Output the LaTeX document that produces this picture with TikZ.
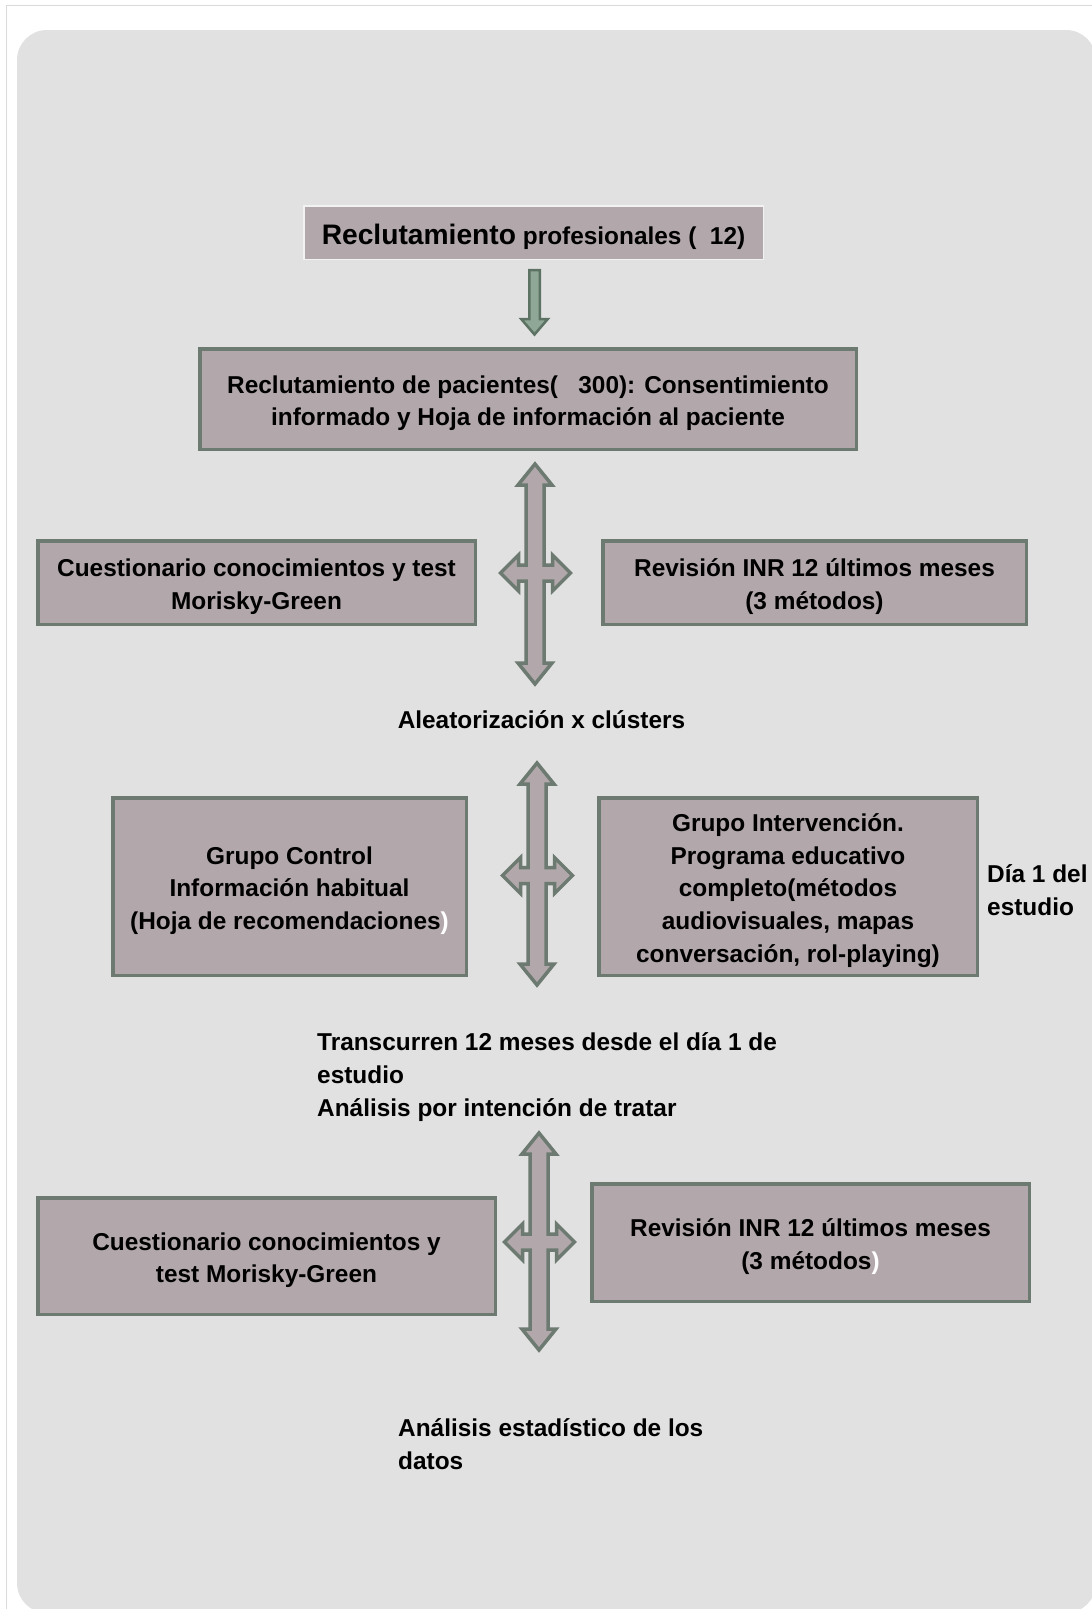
\documentclass[tikz,border=0pt]{standalone}
\usepackage{fontspec}
\setmainfont{Liberation Sans}
\definecolor{panel}{RGB}{225,225,225}
\definecolor{framegray}{RGB}{218,218,218}
\definecolor{boxfill}{RGB}{178,168,171}
\definecolor{boxline}{RGB}{108,122,113}
\definecolor{topline}{RGB}{242,242,242}
\definecolor{darrowfill}{RGB}{143,167,151}
\definecolor{darrowline}{RGB}{92,114,99}
\newcommand\topstrut{\rule{0pt}{26pt}}
\newcommand\quadarrow[6]{%
  \draw[quad] (#1,#3) -- ({#1+17},{#3+21}) -- ({#1+9},{#3+21}) -- ({#1+9},{#2-8})
   -- ({#6-18},{#2-8}) -- ({#6-18},{#2-18}) -- (#6,#2) -- ({#6-18},{#2+18}) -- ({#6-18},{#2+8})
   -- ({#1+9},{#2+8}) -- ({#1+9},{#4-21}) -- ({#1+17},{#4-21}) -- (#1,#4) -- ({#1-17},{#4-21})
   -- ({#1-9},{#4-21}) -- ({#1-9},{#2+8}) -- ({#5+18},{#2+8}) -- ({#5+18},{#2+18}) -- (#5,#2)
   -- ({#5+18},{#2-18}) -- ({#5+18},{#2-8}) -- ({#1-9},{#2-8}) -- ({#1-9},{#3+21})
   -- ({#1-17},{#3+21}) -- cycle;}
\begin{document}
\begin{tikzpicture}[x=1pt,y=-1pt,
  txt/.style={font=\bfseries\fontsize{24.4}{32.8}\selectfont, align=center, text=black, inner sep=0pt},
  box/.style={txt, draw=boxline, line width=3.5pt, fill=boxfill},
  freetxt/.style={font=\bfseries\fontsize{24.4}{32.8}\selectfont, align=left, text=black, inner sep=0pt},
  quad/.style={draw=boxline, line width=3.5pt, fill=boxfill, line join=miter},
  downarrow/.style={draw=darrowline, line width=2.5pt, fill=darrowfill, line join=miter}
]
\useasboundingbox (0,0) rectangle (1092,1609);
\clip (0,0) rectangle (1092,1609);
\fill[white] (0,0) rectangle (1092,1609);
\draw[framegray, line width=1pt] (6,1620) -- (6,5) -- (1100,5);
\fill[panel, rounded corners=30pt] (17,30) rectangle (1096,1613);

% boxes
\node[box, draw=topline, line width=1.5pt, minimum width=459.5pt, minimum height=53.5pt] (prof) at (533.5,232.5)
  {\rule{0pt}{28.5pt}{\fontsize{28.2}{30}\selectfont Reclutamiento} profesionales (\ \ 12)};
\node[box, minimum width=656.5pt, minimum height=100.5pt] (pac) at (528,399)
  {\topstrut Reclutamiento de pacientes(\ \ \ 300): Consentimiento\\informado y Hoja de información al paciente};
\node[box, minimum width=437.5pt, minimum height=83.5pt] (cuest1) at (256.5,582.5)
  {\topstrut Cuestionario conocimientos y test\\Morisky-Green};
\node[box, minimum width=423.5pt, minimum height=83.5pt] (inr1) at (814.5,582.5)
  {\topstrut Revisión INR 12 últimos meses\\(3 métodos)};
\node[box, minimum width=353.5pt, minimum height=177.5pt] (control) at (289.5,886.5)
  {\topstrut Grupo Control\\Información habitual\\(Hoja de recomendaciones\textcolor{white}{)}};
\node[box, minimum width=378.5pt, minimum height=177.5pt] (interv) at (788,886.5)
  {\topstrut Grupo Intervención.\\Programa educativo\\completo(métodos\\audiovisuales, mapas\\conversación, rol-playing)};
\node[box, minimum width=457.5pt, minimum height=116.5pt] (cuest2) at (266.5,1256)
  {\topstrut Cuestionario conocimientos y\\test Morisky-Green};
\node[box, minimum width=437.5pt, minimum height=117.5pt] (inr2) at (810.5,1242.5)
  {\topstrut Revisión INR 12 últimos meses\\(3 métodos\textcolor{white}{)}};

% free texts
\node[freetxt, anchor=base] (alea) at (541.5,728.5) {Aleatorización x clústers};
\node[freetxt, anchor=north west] (dia) at (987,858.5) {\rule{0pt}{24pt}Día 1 del\\estudio};
\node[freetxt, anchor=north west] (trans) at (317,1026.5)
  {\rule{0pt}{24pt}Transcurren 12 meses desde el día 1 de\\estudio\\Análisis por intención de tratar};
\node[freetxt, anchor=north west] (anal) at (398,1412.5)
  {\rule{0pt}{24pt}Análisis estadístico de los\\datos};

% arrows
\draw[downarrow] (529.3,270) -- (539.8,270) -- (539.8,319) -- (547.8,319) -- (534.5,334.5)
  -- (521.2,319) -- (529.3,319) -- cycle;
\quadarrow{535}{573}{464}{684}{500.5}{570.5}
\quadarrow{537}{875.5}{763}{985}{502.5}{572.5}
\quadarrow{539}{1242}{1133}{1350}{504.5}{574.5}
\end{tikzpicture}
\end{document}
